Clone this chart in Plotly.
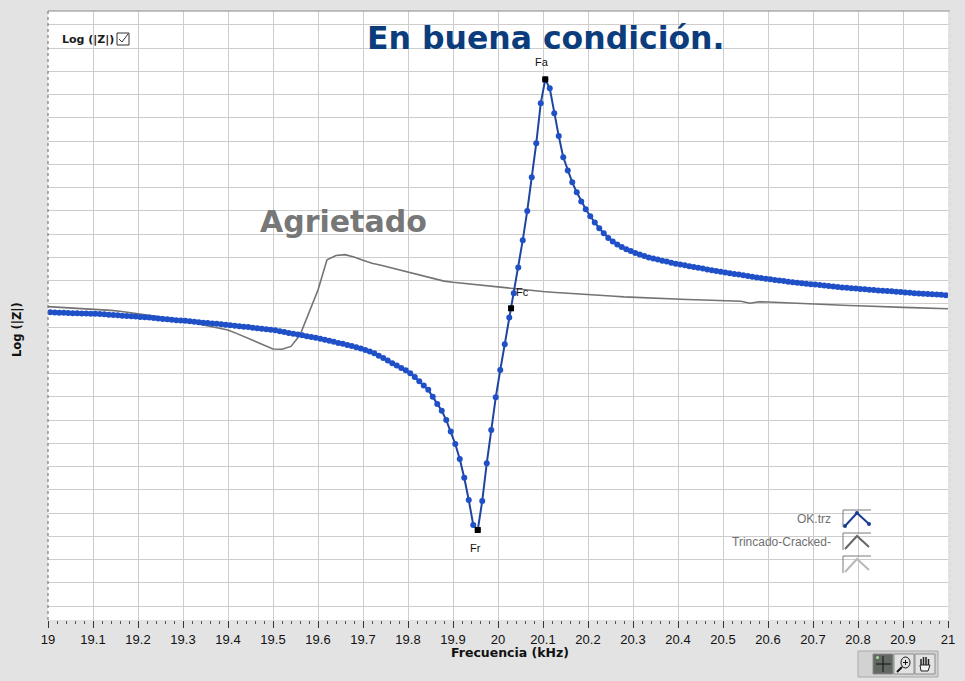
import plotly.graph_objects as go

# ---------------- data ----------------
# frequency sweep (kHz) of the "OK.trz" trace, 0.01 kHz step
freq_ok = [round(19.005 + 0.01 * i, 3) for i in range(200)]
logz_ok = [
    12.64, 12.63, 12.62, 12.62, 12.61, 12.60, 12.60, 12.59, 12.59, 12.58,
    12.57, 12.56, 12.55, 12.53, 12.52, 12.51, 12.49, 12.48, 12.47, 12.46,
    12.44, 12.42, 12.41, 12.39, 12.37, 12.35, 12.34, 12.32, 12.30, 12.29,
    12.27, 12.25, 12.23, 12.21, 12.19, 12.18, 12.16, 12.14, 12.12, 12.10,
    12.08, 12.06, 12.04, 12.02, 12.00, 11.97, 11.95, 11.93, 11.91, 11.89,
    11.86, 11.82, 11.79, 11.75, 11.72, 11.68, 11.65, 11.61, 11.57, 11.54,
    11.50, 11.46, 11.41, 11.37, 11.32, 11.28, 11.23, 11.19, 11.13, 11.08,
    11.02, 10.95, 10.88, 10.77, 10.67, 10.56, 10.45, 10.35, 10.24, 10.14,
    10.01, 9.85, 9.67, 9.49, 9.30, 9.00, 8.69, 8.40, 8.00, 7.51,
    6.97, 6.33, 5.52, 4.56, 3.49, 3.27, 4.52, 6.14, 7.57, 8.98,
    10.15, 11.26, 12.41, 13.46, 14.56, 15.74, 17.00, 18.45, 19.91, 21.63,
    22.66, 22.28, 21.20, 20.22, 19.31, 18.74, 18.23, 17.80, 17.41, 17.07,
    16.77, 16.50, 16.25, 16.04, 15.84, 15.68, 15.56, 15.45, 15.35, 15.27,
    15.19, 15.12, 15.06, 15.00, 14.95, 14.91, 14.86, 14.82, 14.77, 14.73,
    14.69, 14.66, 14.62, 14.59, 14.55, 14.52, 14.48, 14.45, 14.41, 14.38,
    14.35, 14.32, 14.29, 14.26, 14.23, 14.20, 14.17, 14.14, 14.11, 14.08,
    14.06, 14.03, 14.01, 13.98, 13.95, 13.93, 13.91, 13.89, 13.87, 13.85,
    13.83, 13.81, 13.79, 13.77, 13.75, 13.73, 13.71, 13.69, 13.67, 13.66,
    13.64, 13.63, 13.61, 13.60, 13.58, 13.57, 13.55, 13.54, 13.52, 13.51,
    13.49, 13.48, 13.46, 13.45, 13.44, 13.43, 13.41, 13.40, 13.39, 13.37,
]

# frequency sweep (kHz) of the cracked trace, 0.02 kHz step
freq_cracked = [round(19.0 + 0.02 * j, 2) for j in range(101)]
logz_cracked = [
    12.88, 12.86, 12.84, 12.83, 12.81, 12.79, 12.75, 12.72, 12.68, 12.63,
    12.59, 12.53, 12.47, 12.40, 12.34, 12.28, 12.22, 12.11, 12.03, 11.95,
    11.88, 11.72, 11.56, 11.39, 11.23, 11.06, 11.05, 11.17, 11.66, 12.61,
    13.60, 14.90, 15.08, 15.12, 15.02, 14.88, 14.75, 14.66, 14.56, 14.46,
    14.36, 14.26, 14.16, 14.06, 13.98, 13.93, 13.89, 13.84, 13.80, 13.75,
    13.70, 13.66, 13.62, 13.59, 13.56, 13.53, 13.50, 13.48, 13.46, 13.43,
    13.40, 13.37, 13.35, 13.33, 13.30, 13.28, 13.27, 13.25, 13.24, 13.22,
    13.21, 13.19, 13.18, 13.17, 13.15, 13.14, 13.12, 13.11, 13.03, 13.09,
    13.08, 13.06, 13.05, 13.03, 13.00, 12.98, 12.97, 12.96, 12.94, 12.93,
    12.92, 12.90, 12.89, 12.87, 12.86, 12.85, 12.84, 12.83, 12.81, 12.81,
    12.79,
]

key_labels = ["Fr", "Fc", "Fa"]
key_freq = [19.955, 20.029, 20.105]
key_logz = [3.27, 12.81, 22.66]

x_ticks = [19, 19.1, 19.2, 19.3, 19.4, 19.5, 19.6, 19.7, 19.8, 19.9, 20,
           20.1, 20.2, 20.3, 20.4, 20.5, 20.6, 20.7, 20.8, 20.9, 21]
x_tick_text = ["19", "19.1", "19.2", "19.3", "19.4", "19.5", "19.6", "19.7",
               "19.8", "19.9", "20", "20.1", "20.2", "20.3", "20.4", "20.5",
               "20.6", "20.7", "20.8", "20.9", "21"]
legend_names = ["OK.trz", "Trincado-Cracked-", ""]

# ---------------- layout geometry ----------------
W, H = 965, 681
L, R, T, B = 48, 948, 11, 620
FONT = "Arial, Liberation Sans, sans-serif"
WIDE = "DejaVu Sans, Verdana, sans-serif"


def PX(x):
    return (x - L) / (R - L)


def PY(y):
    return (B - y) / (B - T)


fig = go.Figure()

fig.add_trace(go.Scatter(
    x=freq_cracked, y=logz_cracked, mode="lines",
    line=dict(color="#737373", width=1.6), name=legend_names[1],
    hoverinfo="skip"))

fig.add_trace(go.Scatter(
    x=freq_ok, y=logz_ok, mode="lines+markers",
    line=dict(color="#1f45a0", width=2),
    marker=dict(color="#1f50c8", size=6), name=legend_names[0]))

fig.add_trace(go.Scatter(
    x=key_freq, y=key_logz, mode="markers",
    marker=dict(symbol="square", color="black", size=6), name="keys"))

shapes = []
annotations = []

# labels of the characteristic frequencies, attached to their data points
label_shift = {"Fr": (-2, -18), "Fc": (11, 16), "Fa": (-3, 17)}
for lab, fx, fy in zip(key_labels, key_freq, key_logz):
    dx, dy = label_shift[lab]
    annotations.append(dict(x=fx, y=fy, xref="x", yref="y", text=lab,
                            showarrow=False, xshift=dx, yshift=dy,
                            font=dict(family=FONT, size=11, color="#111"),
                            xanchor="center", yanchor="middle"))

# plot frame: top line and dotted left edge
shapes.append(dict(type="line", xref="paper", yref="paper", x0=0, x1=1.002,
                   y0=1, y1=1, line=dict(color="#8a8a8a", width=1)))
shapes.append(dict(type="line", xref="paper", yref="paper", x0=0, x1=0,
                   y0=0, y1=1, line=dict(color="#7a5c5c", width=1, dash="dot")))
shapes.append(dict(type="line", xref="paper", yref="paper", x0=1.002, x1=1.002,
                   y0=0, y1=1, line=dict(color="#d8d8d8", width=1, dash="dot")))

# titles
annotations.append(dict(x=PX(545), y=PY(38), xref="paper", yref="paper",
                        text="<b>En buena condición.</b>", showarrow=False,
                        font=dict(family=WIDE, size=31.5, color="#0b3d7c"),
                        xanchor="center", yanchor="middle"))
annotations.append(dict(x=PX(343), y=PY(221), xref="paper", yref="paper",
                        text="<b>Agrietado</b>", showarrow=False,
                        font=dict(family=WIDE, size=30, color="#777777"),
                        xanchor="center", yanchor="middle"))
annotations.append(dict(x=PX(60), y=PY(39), xref="paper", yref="paper",
                        text="<b>Log (|Z|)</b>", showarrow=False,
                        font=dict(family=WIDE, size=11, color="#1a1a1a"),
                        xanchor="left", yanchor="middle"))
# checkbox next to the label
shapes.append(dict(type="rect", xref="paper", yref="paper",
                   x0=PX(117), x1=PX(129), y0=PY(45), y1=PY(33),
                   line=dict(color="#333", width=1)))
shapes.append(dict(type="path", xref="paper", yref="paper",
                   path=f"M {PX(119)} {PY(39)} L {PX(122)} {PY(42)} L {PX(128)} {PY(34)}",
                   line=dict(color="#333", width=1)))

# axis titles
annotations.append(dict(x=PX(17), y=PY(330), xref="paper", yref="paper",
                        text="<b>Log (|Z|)</b>", showarrow=False, textangle=-90,
                        font=dict(family=WIDE, size=11.5, color="#111"),
                        xanchor="center", yanchor="middle"))
annotations.append(dict(x=PX(510), y=PY(652), xref="paper", yref="paper",
                        text="<b>Frecuencia (kHz)</b>", showarrow=False,
                        font=dict(family=WIDE, size=12.5, color="#111"),
                        xanchor="center", yanchor="middle"))

# custom legend (text then icon)
leg_colors = ["#1c3e92", "#666666", "#b8b8b8"]
for k, (name, col) in enumerate(zip(legend_names, leg_colors)):
    yc = 519 + 23 * k
    if name:
        annotations.append(dict(x=PX(833), y=PY(yc), xref="paper", yref="paper",
                                text=name, showarrow=False,
                                font=dict(family=FONT, size=12, color="#707070"),
                                xanchor="right", yanchor="middle"))
    top, bot = yc - 9, yc + 8
    shapes.append(dict(type="path", xref="paper", yref="paper",
                       path=f"M {PX(843)} {PY(bot)} L {PX(843)} {PY(top)} L {PX(871)} {PY(top)}",
                       line=dict(color="#7a7a7a", width=1)))
    shapes.append(dict(type="path", xref="paper", yref="paper",
                       path=f"M {PX(845)} {PY(bot - 1)} L {PX(857)} {PY(top + 3)} L {PX(869)} {PY(bot - 3)}",
                       line=dict(color=col, width=2)))
    if k == 0:
        for (vx, vy) in [(845, bot - 1), (857, top + 3), (869, bot - 3)]:
            shapes.append(dict(type="circle", xref="paper", yref="paper",
                               x0=PX(vx - 2), x1=PX(vx + 2), y0=PY(vy + 2), y1=PY(vy - 2),
                               fillcolor=col, line=dict(color=col, width=0)))

# toolbar at the bottom right
shapes.append(dict(type="rect", xref="paper", yref="paper",
                   x0=PX(858), x1=PX(938), y0=PY(677), y1=PY(651),
                   fillcolor="#d2d2d2", line=dict(color="#a9a9a9", width=1)))
btn_fill = ["#626862", "#e2e2e2", "#e2e2e2"]
for b, x0 in enumerate([873, 894, 915]):
    shapes.append(dict(type="rect", xref="paper", yref="paper",
                       x0=PX(x0), x1=PX(x0 + 20), y0=PY(674), y1=PY(654),
                       fillcolor=btn_fill[b], line=dict(color="#8c8c8c", width=1)))
# crosshair icon
shapes.append(dict(type="line", xref="paper", yref="paper", x0=PX(876), x1=PX(891),
                   y0=PY(664), y1=PY(664), line=dict(color="#111", width=1)))
shapes.append(dict(type="line", xref="paper", yref="paper", x0=PX(883), x1=PX(883),
                   y0=PY(656), y1=PY(672), line=dict(color="#111", width=1)))
shapes.append(dict(type="circle", xref="paper", yref="paper", x0=PX(876), x1=PX(879),
                   y0=PY(659), y1=PY(656), fillcolor="#9fe09f", line=dict(width=0)))
# magnifier icon
shapes.append(dict(type="circle", xref="paper", yref="paper", x0=PX(901), x1=PX(910),
                   y0=PY(668), y1=PY(657), line=dict(color="#111", width=1)))
shapes.append(dict(type="line", xref="paper", yref="paper", x0=PX(902), x1=PX(897),
                   y0=PY(667), y1=PY(672), line=dict(color="#111", width=2)))
shapes.append(dict(type="line", xref="paper", yref="paper", x0=PX(903), x1=PX(908),
                   y0=PY(662.5), y1=PY(662.5), line=dict(color="#111", width=1)))
shapes.append(dict(type="line", xref="paper", yref="paper", x0=PX(905.5), x1=PX(905.5),
                   y0=PY(660), y1=PY(665), line=dict(color="#111", width=1)))
# hand icon (fingers + palm outline)
for fx, ftop in [(921, 659), (923.5, 657), (926, 657), (928.5, 659)]:
    shapes.append(dict(type="line", xref="paper", yref="paper", x0=PX(fx), x1=PX(fx),
                       y0=PY(666), y1=PY(ftop), line=dict(color="#222", width=1.5)))
shapes.append(dict(type="path", xref="paper", yref="paper",
                   path=(f"M {PX(920)} {PY(665)} L {PX(921)} {PY(671)} L {PX(928)} {PY(671)} "
                         f"L {PX(930)} {PY(665)} Z"),
                   fillcolor="#f4f4f4", line=dict(color="#222", width=1)))

fig.update_layout(
    width=W, height=H,
    margin=dict(l=L, r=W - R, t=T, b=H - B, pad=0),
    paper_bgcolor="#e3e3e3", plot_bgcolor="white",
    showlegend=False,
    font=dict(family=FONT, color="#111"),
    shapes=shapes, annotations=annotations,
    xaxis=dict(range=[19, 21], tickmode="array", tickvals=x_ticks,
               ticktext=x_tick_text, showgrid=True, gridcolor="#cdcdcd",
               gridwidth=1, zeroline=False, showline=False,
               ticks="outside", ticklen=7, tickcolor="#333", tickwidth=1,
               tickfont=dict(family=FONT, size=13, color="#111"),
               minor=dict(dtick=0.02, tick0=19, ticks="outside", ticklen=3,
                          tickcolor="#555", showgrid=False)),
    yaxis=dict(range=[-0.602, 25.602], dtick=1, tick0=0, showgrid=True,
               gridcolor="#cdcdcd", gridwidth=1, zeroline=False,
               showticklabels=False, ticks="", showline=False),
)

fig.write_html("out.html", config={"displayModeBar": False},
               post_script="document.body.style.margin='0';")
